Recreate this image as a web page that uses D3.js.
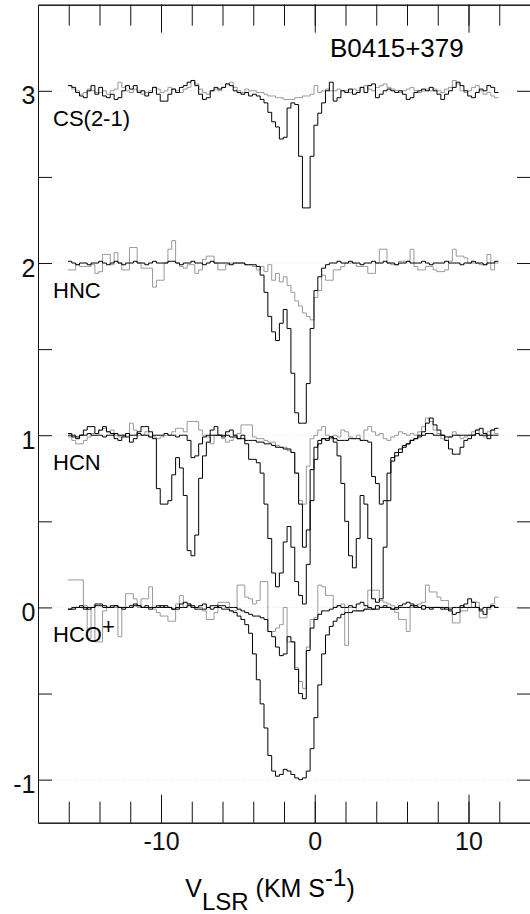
<!DOCTYPE html>
<html>
<head>
<meta charset="utf-8">
<script src="https://d3js.org/d3.v7.min.js"></script>
<style>
  body { margin: 0; background: #fff; }
  svg { display: block; font-family: "Liberation Sans", Arial, sans-serif; }
</style>
</head>
<body>
<div id="chart"></div>
<script>
// spectra: channel i covers [V0 + i*DV, V0 + (i+1)*DV], 8 channels (2 km/s) per row
const V0 = -16.05, DV = 0.25;

const csBlack = [
  3.03, 3.02, 2.99, 2.97, 2.96, 3.0, 3.03, 2.98,
  3.02, 2.97, 2.96, 2.98, 2.95, 2.96, 3.0, 3.03,
  3.01, 3.03, 2.99, 3.0, 2.97, 2.99, 3.02, 2.98,
  2.94, 2.94, 2.98, 3.01, 2.99, 3.02, 3.03, 3.05,
  3.06, 3.03, 2.98, 2.95, 2.96, 3.0, 3.02, 3.01,
  3.02, 3.04, 3.03, 3.0, 2.99, 2.98, 2.99, 2.97,
  2.98, 2.97, 2.95, 2.93, 2.875, 2.82, 2.79, 2.72,
  2.73, 2.9, 2.93, 2.92, 2.62, 2.32, 2.32, 2.62,
  2.8, 2.87, 2.93, 3.0, 3.05, 2.94, 2.96, 3.0,
  2.99, 3.01, 2.98, 2.99, 3.02, 2.99, 3.03, 3.04,
  2.96, 2.98, 3.0, 3.01, 3.0, 2.99, 3.0, 2.98,
  2.95, 2.96, 2.99, 3.0, 3.01, 3.0, 3.02, 3.0,
  2.98, 2.95, 2.98, 3.0, 3.02, 3.05, 3.03, 3.0,
  2.97, 2.96, 2.99, 3.01, 3.0, 3.03, 3.02, 2.99
];
const csGray = [
  3.03, 3.01, 3.0, 2.98, 2.99, 3.01, 3.0, 2.99,
  2.99, 3.0, 2.98, 3.0, 3.01, 3.05, 3.02, 3.0,
  2.99, 3.01, 3.0, 2.98, 2.99, 3.0, 3.02, 3.01,
  2.99, 3.0, 3.02, 3.01, 3.0, 2.99, 3.01, 3.02,
  3.06, 3.04, 3.01, 2.99, 2.98, 3.0, 3.01, 3.0,
  3.02, 3.04, 3.05, 3.02, 3.0, 2.99, 3.01, 3.0,
  3.0, 2.99, 2.99, 2.98, 2.97, 2.97, 2.96, 2.96,
  2.95, 2.95, 2.95, 2.96, 2.96, 2.97, 2.97, 2.98,
  3.03, 2.99, 3.0, 3.01, 3.0, 3.0, 3.01, 3.0,
  3.0, 2.99, 3.01, 3.0, 3.02, 3.03, 3.01, 3.0,
  3.02, 3.03, 3.04, 3.02, 3.01, 3.0, 2.99, 3.0,
  3.01, 3.02, 3.0, 2.99, 3.0, 3.01, 3.0, 3.01,
  3.0, 2.99, 3.01, 3.02, 3.06, 3.04, 3.0, 2.99,
  3.0, 3.02, 3.03, 3.0, 2.98, 2.99, 2.97, 2.96
];

const hncBlack = [
  2.01, 2.0, 1.99, 2.0, 2.0, 1.99, 2.0, 2.0,
  2.01, 2.0, 1.99, 2.0, 2.01, 2.0, 1.99, 2.0,
  2.0, 2.01, 2.0, 2.0, 1.99, 2.0, 2.01, 2.0,
  2.0, 2.0, 2.01, 2.01, 2.0, 1.99, 2.0, 2.0,
  2.01, 2.0, 2.0, 1.99, 2.0, 2.01, 2.0, 2.0,
  2.0, 2.0, 1.99, 2.0, 2.0, 2.0, 1.99, 1.99,
  1.99, 1.98, 1.93, 1.83, 1.69, 1.6, 1.55, 1.65,
  1.73, 1.62, 1.36, 1.13, 1.07, 1.07, 1.3, 1.62,
  1.84, 1.92, 1.97, 1.99, 2.0, 2.0, 2.01, 2.0,
  2.0, 2.01, 2.0, 2.0, 1.99, 2.0, 2.0, 2.01,
  2.0, 2.0, 2.01, 2.0, 2.0, 1.99, 2.0, 2.0,
  2.01, 2.0, 2.0, 2.0, 2.01, 2.0, 1.99, 2.0,
  2.0, 2.0, 2.01, 2.0, 2.0, 2.0, 1.99, 2.0,
  2.0, 2.01, 2.0, 2.0, 1.99, 2.0, 2.0, 2.01
];
const hncGray = [
  1.96, 1.96, 1.99, 1.98, 1.98, 1.98, 1.99, 1.94,
  1.95, 2.05, 2.05, 1.99, 2.06, 2.0, 1.96, 1.96,
  2.09, 2.09, 2.0, 1.97, 1.97, 1.97, 1.86, 1.9,
  1.9, 2.0, 2.08, 2.13, 2.0, 1.98, 1.97, 1.99,
  1.99, 1.94, 1.96, 2.02, 2.04, 2.04, 2.0, 1.96,
  1.96, 1.99, 2.0, 2.0, 2.0, 2.0, 1.99, 1.99,
  1.98, 1.96, 1.98, 1.95, 1.99, 1.9, 1.94, 1.89,
  1.92, 1.87, 1.83, 1.78, 1.75, 1.71, 1.69, 1.67,
  1.8, 1.84, 1.93, 1.9, 1.9, 1.96, 1.96, 1.98,
  2.0, 2.0, 2.0, 1.98, 1.98, 1.98, 1.94, 1.94,
  2.0, 2.08, 2.08, 2.0, 1.99, 1.99, 2.01, 2.01,
  2.01, 2.08, 1.98, 1.96, 1.96, 1.98, 1.98, 1.96,
  1.95, 1.95, 1.96, 2.01, 2.08, 2.04, 2.04, 2.03,
  2.0, 2.0, 2.0, 1.99, 1.99, 2.05, 1.96, 2.0
];

const hcnBlack = [
  1.01, 0.99, 0.98, 1.0, 1.03, 1.05, 1.05, 1.01,
  1.03, 1.05, 1.02, 1.01, 0.98, 0.97, 0.99, 1.01,
  0.96, 0.98, 1.02, 1.05, 1.05, 1.02, 0.98, 0.69,
  0.6, 0.6, 0.62, 0.77, 0.87, 0.81, 0.65, 0.33,
  0.3, 0.42, 0.75, 0.88, 0.96, 1.03, 1.05, 1.0,
  0.99, 1.02, 1.03, 1.0, 0.98, 1.0, 0.95, 0.86,
  0.86, 0.84, 0.78, 0.6, 0.4, 0.2, 0.12, 0.2,
  0.38, 0.47, 0.35, 0.15, 0.07, 0.02, 0.25, 0.62,
  0.86, 0.95, 0.98, 0.97, 0.99, 0.96, 0.88, 0.72,
  0.5, 0.3, 0.23, 0.4, 0.65, 0.6, 0.4, 0.05,
  0.03, 0.05, 0.35, 0.62, 0.85, 0.88, 0.9, 0.93,
  0.95, 0.97, 0.98, 1.0, 1.02, 1.07, 1.1, 1.06,
  1.03, 1.0, 0.97, 0.92, 0.89, 0.89, 0.93, 0.97,
  0.98, 1.0, 1.03, 1.04, 1.01, 0.98, 1.03, 1.04
];
const hcnBlack2 = [
  1.0, 1.0, 0.99, 1.0, 1.0, 1.01, 1.0, 1.0,
  1.0, 0.99, 1.0, 1.0, 1.01, 1.0, 1.0, 0.99,
  1.0, 1.0, 1.01, 1.0, 1.0, 0.99, 1.0, 1.0,
  1.0, 1.01, 1.0, 1.0, 0.99, 1.0, 1.0, 0.97,
  0.87, 0.88, 0.95, 0.99, 1.0, 1.0, 1.0, 1.0,
  1.0, 1.0, 0.99, 0.99, 0.98, 0.98, 0.97, 0.97,
  0.97, 0.96, 0.96, 0.95, 0.95, 0.94, 0.93, 0.93,
  0.92, 0.92, 0.9, 0.78, 0.6, 0.35, 0.45, 0.8,
  0.93, 0.97, 0.98, 0.98, 0.99, 0.98, 0.97, 0.97,
  0.97, 0.98, 0.98, 0.98, 0.97, 0.97, 0.96, 0.76,
  0.72, 0.6, 0.62, 0.78, 0.87, 0.9, 0.92, 0.94,
  0.95, 0.97, 0.98, 0.99, 1.0, 1.01, 1.01, 1.0,
  1.0, 1.0, 0.99, 0.99, 1.0, 1.0, 1.0, 1.0,
  1.0, 1.0, 1.01, 1.0, 1.0, 1.0, 1.0, 1.0
];
const hcnGray = [
  0.99, 0.97, 0.95, 0.95, 0.97, 0.99, 1.01, 1.01,
  1.03, 1.04, 1.02, 1.03, 1.0, 0.99, 1.0, 1.01,
  1.07, 1.03, 1.0, 1.0, 1.02, 0.99, 0.99, 0.98,
  0.99, 1.0, 1.0, 1.02, 1.04, 1.04, 1.02, 1.08,
  1.08, 1.08, 1.03, 1.0, 0.99, 0.95, 1.0, 1.0,
  0.98, 0.96, 0.97, 1.0, 1.01, 1.06, 1.06, 1.06,
  0.99, 0.98, 0.98, 0.97, 0.96, 0.96, 0.94, 0.93,
  0.93, 0.91, 0.9, 0.78, 0.62, 0.6, 0.82, 0.98,
  1.0, 1.03, 1.05, 1.0, 0.98, 1.0, 0.99, 1.03,
  1.02, 0.99, 0.98, 1.0, 0.97, 1.03, 1.05, 1.02,
  1.0, 1.01, 0.98, 0.97, 0.99, 1.0, 1.02, 1.01,
  1.0, 1.01, 1.0, 1.02, 1.05, 1.1, 1.08, 1.03,
  1.01, 0.98, 0.97, 0.99, 1.02, 1.0, 0.98, 0.99,
  1.0, 1.02, 1.03, 1.0, 0.99, 1.02, 1.03, 1.01
];

const hcoBlack = [
  -0.01, -0.01, 0.0, 0.0, -0.01, 0.0, 0.0, 0.01,
  0.01, 0.0, 0.0, 0.01, 0.01, 0.0, 0.0, 0.0,
  0.0, 0.01, 0.01, 0.0, 0.0, -0.01, 0.0, 0.0,
  0.01, 0.0, 0.0, -0.01, -0.01, 0.0, 0.0, 0.01,
  0.0, -0.01, -0.01, -0.01, 0.0, 0.01, 0.01, 0.0,
  -0.01, -0.01, -0.02, -0.03, -0.05, -0.07, -0.1, -0.15,
  -0.27, -0.42, -0.56, -0.7, -0.86, -0.95, -0.98, -0.97,
  -0.94, -0.95, -0.97, -0.99, -1.0, -0.99, -0.95, -0.82,
  -0.64, -0.45, -0.27, -0.16, -0.11, -0.08, -0.06, -0.04,
  -0.03, -0.03, -0.02, -0.02, -0.02, -0.01, -0.01, -0.01,
  -0.01, 0.0, 0.0, 0.0, -0.01, -0.01, 0.0, 0.0,
  0.0, 0.01, 0.0, 0.0, -0.01, 0.0, 0.0, 0.0,
  0.0, 0.0, -0.01, -0.01, 0.0, 0.0, 0.01, 0.0,
  0.0, 0.0, 0.0, -0.01, 0.0, 0.0, 0.01, 0.0
];
const hcoBlack2 = [
  -0.01, 0.0, 0.0, 0.01, 0.0, -0.01, 0.0, 0.02,
  0.02, 0.01, 0.0, 0.0, 0.01, 0.0, -0.01, 0.0,
  0.01, 0.02, 0.01, 0.0, 0.01, 0.0, 0.0, 0.01,
  0.0, 0.01, 0.0, -0.01, 0.0, 0.02, 0.03, 0.02,
  0.01, 0.0, 0.01, 0.02, 0.0, -0.01, 0.0, 0.01,
  0.01, 0.0, 0.0, 0.0, -0.01, -0.02, -0.03, -0.04,
  -0.05, -0.05, -0.06, -0.07, -0.14, -0.17, -0.23, -0.28,
  -0.27, -0.17, -0.2, -0.36, -0.5, -0.53, -0.25, -0.12,
  -0.07, -0.04, -0.02, -0.02, -0.01, 0.0, 0.01, 0.0,
  0.0, 0.01, 0.0, 0.02, 0.03, 0.01, 0.0, -0.01,
  0.01, 0.0, 0.01, 0.0, -0.01, 0.0, 0.01, 0.02,
  0.03, 0.02, 0.01, 0.0, 0.01, 0.0, -0.01, 0.0,
  0.0, -0.01, 0.0, -0.02, -0.04, -0.03, 0.0, 0.02,
  0.05, 0.03, 0.0, -0.02, -0.04, 0.0, 0.01, 0.0
];
const hcoGray = [
  0.16, 0.16, 0.16, 0.16, 0.01, -0.18, 0.0, -0.2,
  -0.2, -0.02, 0.0, 0.0, 0.0, -0.17, 0.0, 0.08,
  0.08, 0.05, 0.0, 0.05, 0.05, 0.12, -0.01, -0.03,
  -0.05, -0.05, -0.08, -0.08, 0.02, 0.07, 0.0, 0.02,
  0.0, 0.0, 0.0, -0.02, -0.07, -0.07, -0.03, 0.03,
  0.03, 0.03, -0.02, -0.02, 0.13, 0.13, 0.06, 0.05,
  0.02, 0.04, 0.15, 0.15, -0.14, -0.14, -0.12, -0.1,
  0.0, -0.2, -0.2, -0.35, -0.43, -0.47, -0.23, -0.07,
  -0.06, 0.13, 0.12, 0.07, 0.07, 0.0, 0.01, 0.02,
  -0.22, 0.0, 0.0, -0.02, -0.02, -0.01, 0.1, 0.1,
  0.1, 0.04, 0.03, 0.02, 0.01, -0.03, -0.07, -0.07,
  -0.14, 0.0, 0.01, 0.02, 0.03, 0.13, 0.09, 0.09,
  0.06, 0.04, 0.04, 0.0, -0.09, -0.09, -0.02, -0.02,
  0.0, 0.03, 0.03, -0.06, -0.06, -0.01, 0.02, 0.06
];

const species = ["CS(2-1)", "HNC", "HCN", "HCO"];
const baselines = [3, 2, 1, 0];
const xMinorTicks = d3.range(-16, 13, 2);
const xMajorTicks = [-10, 0, 10];
const yTicks = d3.range(-1, 3.01, 0.5);
const sourceName = "B0415+379";

// ---- layout
const W = 530, H = 914;
const svg = d3.select("#chart").append("svg")
    .attr("width", W)
    .attr("height", H);

const x = d3.scaleLinear().domain([-18, 14]).range([38, 530]);
const y = d3.scaleLinear().domain([-1.25, 3.5]).range([822.7, 4.7]);

// very faint guide lines at each integer level
svg.append("g")
  .selectAll("line")
  .data(baselines.concat([-1]))
  .join("line")
    .attr("x1", x(-18)).attr("x2", x(14))
    .attr("y1", d => y(d)).attr("y2", d => y(d))
    .attr("stroke", "#e6e6e6")
    .attr("stroke-width", 1)
    .attr("stroke-dasharray", "1,2");

// ---- spectra
const line = d3.line()
    .x(d => x(d[0]))
    .y(d => y(d[1]))
    .curve(d3.curveStepAfter);

function toPoints(vals) {
  const pts = vals.map((v, i) => [V0 + i * DV, v]);
  pts.push([V0 + vals.length * DV, vals[vals.length - 1]]);
  return pts;
}

const series = [
  { vals: csGray, color: "#999" },
  { vals: hncGray, color: "#999" },
  { vals: hcnGray, color: "#999" },
  { vals: hcoGray, color: "#999" },
  { vals: csBlack, color: "#000" },
  { vals: hncBlack, color: "#000" },
  { vals: hcnBlack2, color: "#000" },
  { vals: hcnBlack, color: "#000" },
  { vals: hcoBlack, color: "#000" },
  { vals: hcoBlack2, color: "#000" }
];

svg.append("g")
  .selectAll("path")
  .data(series)
  .join("path")
    .attr("d", d => line(toPoints(d.vals)))
    .attr("fill", "none")
    .attr("stroke", d => d.color)
    .attr("stroke-width", 1)
    .attr("stroke-linejoin", "miter");

// ---- axes (ticks pointing inward)
const fmt = d => String(d);

function styleAxis(g) {
  g.attr("font-family", "Liberation Sans, Arial, sans-serif")
   .attr("font-size", 25)
   .attr("color", "#111");
  g.selectAll("path, line").attr("stroke-width", 1);
}

svg.append("g")
    .attr("transform", `translate(0,${y(-1.25)})`)
    .call(d3.axisBottom(x).tickValues(xMinorTicks).tickSizeInner(-21).tickSizeOuter(0).tickFormat(""))
    .call(styleAxis);
svg.append("g")
    .attr("transform", `translate(0,${y(-1.25)})`)
    .call(d3.axisBottom(x).tickValues(xMajorTicks).tickSizeInner(-28).tickSizeOuter(0).tickPadding(10).tickFormat(fmt))
    .call(styleAxis);

svg.append("g")
    .attr("transform", `translate(0,${y(3.5)})`)
    .call(d3.axisTop(x).tickValues(xMinorTicks).tickSizeInner(-21).tickSizeOuter(0).tickFormat(""))
    .call(styleAxis);
svg.append("g")
    .attr("transform", `translate(0,${y(3.5)})`)
    .call(d3.axisTop(x).tickValues(xMajorTicks).tickSizeInner(-28).tickSizeOuter(0).tickFormat(""))
    .call(styleAxis);

svg.append("g")
    .attr("transform", `translate(${x(-18)},0)`)
    .call(d3.axisLeft(y).tickValues(yTicks).tickSizeInner(-14).tickSizeOuter(0).tickPadding(2.5)
      .tickFormat(d => Number.isInteger(d) ? fmt(d) : ""))
    .call(styleAxis)
    .selectAll(".tick text").attr("dy", 13);

svg.append("g")
    .attr("transform", `translate(531,0)`)
    .call(d3.axisRight(y).tickValues(yTicks).tickSizeInner(-14).tickSizeOuter(0).tickFormat(""))
    .call(styleAxis);

// ---- labels
const labels = svg.append("g")
    .attr("font-family", "Liberation Sans, Arial, sans-serif")
    .attr("fill", "#000");

species.forEach((name, i) => {
  const t = labels.append("text")
      .attr("x", 53)
      .attr("y", y(baselines[i]) + 35)
      .attr("font-size", 22)
      .text(name);
  if (name === "HCO") {
    t.append("tspan").attr("dy", -8.5).text("+");
  }
});

labels.append("text")
    .attr("x", 330)
    .attr("y", 56.5)
    .attr("font-size", 26)
    .text(sourceName);

const xt = labels.append("text")
    .attr("x", 270)
    .attr("y", 896.5)
    .attr("text-anchor", "middle")
    .attr("font-size", 25);
xt.append("tspan").text("V");
xt.append("tspan").attr("dy", 13).attr("font-size", 24).text("LSR");
xt.append("tspan").attr("dy", -13).text(" (KM S");
xt.append("tspan").attr("dy", -11).attr("font-size", 24).text("-1");
xt.append("tspan").attr("dy", 11).text(")");
</script>
</body>
</html>
